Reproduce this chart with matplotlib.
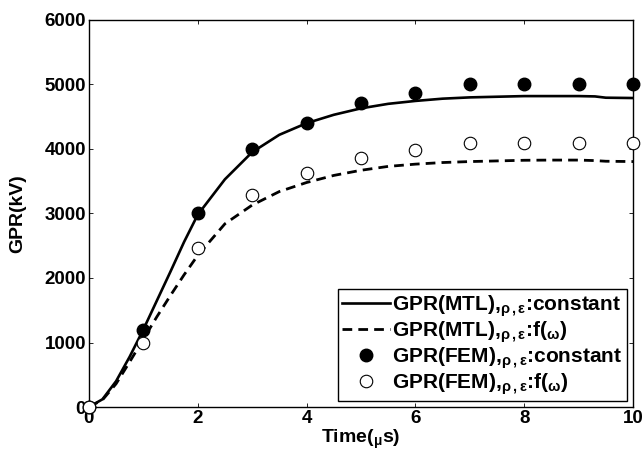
import matplotlib
matplotlib.use("Agg")
import matplotlib.pyplot as plt
import numpy as np

# curves (time in us, GPR in kV)
t_curve = [0, 0.25, 0.5, 0.75, 1, 1.25, 1.5, 1.75, 2, 2.5, 3, 3.5, 4, 4.5, 5,
           5.5, 6, 6.5, 7, 7.5, 8, 8.5, 9, 9.3, 9.5, 10]
gpr_mtl_const = [0, 120, 400, 780, 1200, 1650, 2100, 2560, 2980, 3530, 3950,
                 4220, 4400, 4530, 4630, 4700, 4745, 4780, 4800, 4810, 4820,
                 4820, 4820, 4815, 4795, 4790]
gpr_mtl_freq = [0, 110, 360, 700, 1050, 1400, 1730, 2050, 2350, 2840, 3130,
                3340, 3480, 3590, 3670, 3730, 3765, 3790, 3805, 3815, 3825,
                3828, 3828, 3820, 3810, 3805]

t_fem = [0, 1, 2, 3, 4, 5, 6, 7, 8, 9, 10]
gpr_fem_const = [0, 1200, 3000, 4000, 4400, 4710, 4870, 5000, 5000, 5000, 5000]
gpr_fem_freq = [0, 990, 2470, 3280, 3620, 3860, 3980, 4090, 4090, 4090, 4090]

labels = [r"GPR(MTL),$_{\rho\,,\varepsilon}$:constant",
          r"GPR(MTL),$_{\rho\,,\varepsilon}$:f($_{\omega}$)",
          r"GPR(FEM),$_{\rho\,,\varepsilon}$:constant",
          r"GPR(FEM),$_{\rho\,,\varepsilon}$:f($_{\omega}$)"]

plt.rcParams["font.family"] = ["Liberation Sans", "DejaVu Sans"]
plt.rcParams["font.weight"] = "bold"
plt.rcParams["mathtext.fontset"] = "custom"
plt.rcParams["mathtext.rm"] = "Liberation Sans:bold"
plt.rcParams["mathtext.it"] = "Liberation Sans:bold"
plt.rcParams["mathtext.bf"] = "Liberation Sans:bold"

fig = plt.figure(figsize=(6.44, 4.54), dpi=100)
ax = fig.add_axes([0.138, 0.1035, 0.845, 0.8525])

ax.plot(t_curve, gpr_mtl_const, "k-", lw=1.9, label=labels[0])
ax.plot(t_curve, gpr_mtl_freq, "k--", lw=2.0, dashes=(3.5, 2.2), label=labels[1])
ax.plot(t_fem, gpr_fem_const, "o", color="k", ms=9, clip_on=False,
        zorder=5, label=labels[2])
ax.plot(t_fem, gpr_fem_freq, "o", mfc="white", mec="k", mew=0.8, ms=9,
        clip_on=False, zorder=5, label=labels[3])

ax.set_xlim(0, 10)
ax.set_ylim(0, 6000)
ax.set_xticks(np.arange(0, 11, 2))
ax.set_yticks(np.arange(0, 6001, 1000))
ax.tick_params(direction="in", length=3, width=0.6, top=True, right=True,
               labelsize=13.5, pad=2)
for lab in ax.get_xticklabels() + ax.get_yticklabels():
    lab.set_fontweight("bold")
for sp in ax.spines.values():
    sp.set_linewidth(1.0)

ax.set_xlabel(r"Time($_{\mu}$s)", fontsize=14, fontweight="bold", labelpad=1)
ax.set_ylabel("GPR(kV)", fontsize=14, fontweight="bold", labelpad=13)

leg = ax.legend(loc="lower right", fontsize=15, frameon=True, fancybox=False,
                borderaxespad=0.3, handlelength=2.3, handletextpad=0.1,
                labelspacing=0.02, borderpad=0.2, framealpha=1)
leg.get_frame().set_edgecolor("k")
leg.get_frame().set_linewidth(1.0)
for txt in leg.get_texts():
    txt.set_fontweight("bold")

fig.savefig("out.png", dpi=100)
